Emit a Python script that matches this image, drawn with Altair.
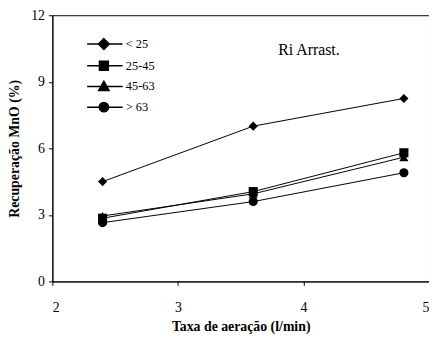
import altair as alt
import pandas as pd

x_vals = [2.4, 3.6, 4.8]
series = ["< 25", "25-45", "45-63", "> 63"]
lt25 = [4.5, 7.0, 8.25]
s25_45 = [2.85, 4.05, 5.8]
s45_63 = [2.95, 3.95, 5.6]
gt63 = [2.65, 3.6, 4.9]
x_ticks = [2, 3, 4, 5]
y_ticks = [0, 3, 6, 9, 12]
annotation = "Ri Arrast."

FONT = "Times New Roman, Liberation Serif, serif"

rows = []
for name, vals in zip(series, [lt25, s25_45, s45_63, gt63]):
    for xv, yv in zip(x_vals, vals):
        rows.append({"taxa": xv, "rec": yv, "serie": name})
df = pd.DataFrame(rows)

marker_shapes = ["diamond", "square", "triangle-up", "circle"]
legend_shapes = [
    "M-3.4,0L3.8,0M0,-1.1L1.1,0L0,1.1L-1.1,0Z",
    "M-3.4,0L3.8,0M-0.9,-0.9L0.9,-0.9L0.9,0.9L-0.9,0.9Z",
    "M-3.4,0L3.8,0M0,-1.05L1.05,0.8L-1.05,0.8Z",
    "M-3.4,0L3.8,0M-0.95,0A0.95,0.95,0,1,0,0.95,0A0.95,0.95,0,1,0,-0.95,0Z",
]

xenc = alt.X("taxa:Q", scale=alt.Scale(domain=[2, 5], nice=False),
             axis=alt.Axis(values=x_ticks, format="d", title="Taxa de aeração (l/min)",
                           labelPadding=16, titlePadding=5))
yenc = alt.Y("rec:Q", scale=alt.Scale(domain=[0, 12], nice=False),
             axis=alt.Axis(values=y_ticks, format="d", title="Recuperação MnO (%)",
                           titleX=-38, titleY=135, titleAngle=270, titleAlign="center",
                           titleBaseline="middle"))

base = alt.Chart(df)
lines = base.mark_line(color="black", strokeWidth=1).encode(
    x=xenc, y=yenc, detail="serie:N")

point_layers = [
    base.transform_filter(alt.datum.serie == name).mark_point(
        filled=True, color="black", opacity=1, size=85, shape=shp).encode(x=xenc, y=yenc)
    for name, shp in zip(series, marker_shapes)
]

legend_layer = base.transform_filter("false").mark_point(
    filled=False, color="black", fill="black", stroke="black", strokeWidth=1, opacity=1,
    fillOpacity=1, strokeOpacity=1, size=100
).encode(
    x=xenc, y=yenc,
    shape=alt.Shape("serie:N", scale=alt.Scale(domain=series, range=legend_shapes),
                    legend=alt.Legend(title=None, orient="none", legendX=46, legendY=23,
                                      labelOffset=16, rowPadding=5, labelFontSize=12.5,
                                      labelFont=FONT, labelColor="black", padding=0)))

ann_df = pd.DataFrame({"taxa": [3.8], "rec": [10.45], "t": [annotation]})
ann = alt.Chart(ann_df).mark_text(align="left", baseline="middle", font=FONT,
                                  fontSize=16, color="black").encode(
    x=alt.X("taxa:Q"), y=alt.Y("rec:Q"), text="t:N")

chart = alt.layer(lines, *point_layers, legend_layer, ann).properties(
    width=382, height=270,
    autosize=alt.AutoSizeParams(type="none"),
    padding={"left": 45, "top": 5, "right": 0, "bottom": 53},
    background="white",
).configure(font=FONT).configure_view(stroke="black", strokeWidth=1).configure_axis(
    grid=False, domainColor="black", tickColor="black", labelColor="black", titleColor="black",
    labelFont=FONT, titleFont=FONT, labelFontSize=14,
    titleFontSize=14, titleFontWeight="bold", tickSize=4, domainWidth=1, tickWidth=1,
).configure_axisY(labelPadding=4).configure_legend(labelFont=FONT, labelColor="black")

chart.save("out.html", embed_options={"renderer": "svg", "actions": False})
